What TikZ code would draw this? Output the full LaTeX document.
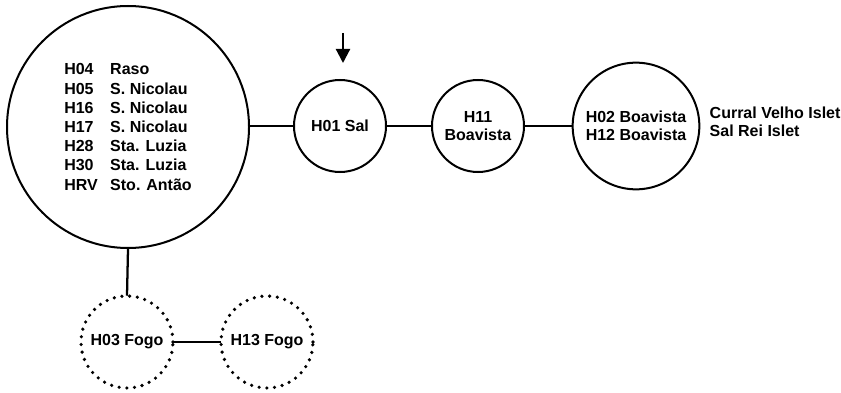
\documentclass[tikz,border=0pt]{standalone}
\usepackage{fontspec}
\setmainfont{Liberation Sans}
\usetikzlibrary{arrows.meta}
\begin{document}
\begin{tikzpicture}[x=0.75pt,y=-0.75pt,
  txt/.style={font=\fontsize{12}{13.5}\selectfont\bfseries, align=center},
  hap/.style={circle, draw, line width=1.5pt, inner sep=0pt, txt},
  dothap/.style={circle, inner sep=0pt, txt, minimum size=69pt},
  conn/.style={line width=1.7pt},
  dotring/.style={line width=2.7pt, line cap=round, dash pattern=on 0pt off 5.8pt}
]
\useasboundingbox (0,0) rectangle (841,392);
\node[hap, minimum size=181.5pt, align=left, font=\fontsize{12}{14.4}\selectfont\bfseries] (big) at (128,127)
 {\makebox[34.5pt][l]{H04}Raso\\
  \makebox[34.5pt][l]{H05}S. Nicolau\\
  \makebox[34.5pt][l]{H16}S. Nicolau\\
  \makebox[34.5pt][l]{H17}S. Nicolau\\
  \makebox[34.5pt][l]{H28}Sta. Luzia\\
  \makebox[34.5pt][l]{H30}Sta. Luzia\\
  \makebox[34.5pt][l]{HRV}Sto. Antão};
\node[hap, minimum size=69pt] (h01) at (340,126) {H01 Sal};
\node[hap, minimum size=69pt] (h11) at (478,126) {H11\\Boavista};
\node[hap, minimum size=95pt] (h02) at (636,126) {H02 Boavista\\H12 Boavista};
\node[txt, align=left, anchor=west] (isl) at (705,122) {Curral Velho Islet\\Sal Rei Islet};
\node[dothap] (h03) at (127,342) {H03 Fogo};
\node[dothap] (h13) at (267,342) {H13 Fogo};
\draw[dotring] (h03) circle[radius=34.5pt];
\draw[dotring] (h13) circle[radius=34.5pt];
\coordinate (arrtop) at (343,33);
\coordinate (arrtip) at (343,63);
\draw[line width=1.6pt, -{Triangle[length=10.5pt,width=10.5pt]}] (arrtop) -- (arrtip);
\draw[conn] (big.east |- h01.west) -- (h01.west);
\draw[conn] (h01) -- (h11);
\draw[conn] (h11) -- (h02);
\draw[conn] (big.south) -- (h03.north);
\draw[conn] (h03) -- (h13);
\end{tikzpicture}
\end{document}
